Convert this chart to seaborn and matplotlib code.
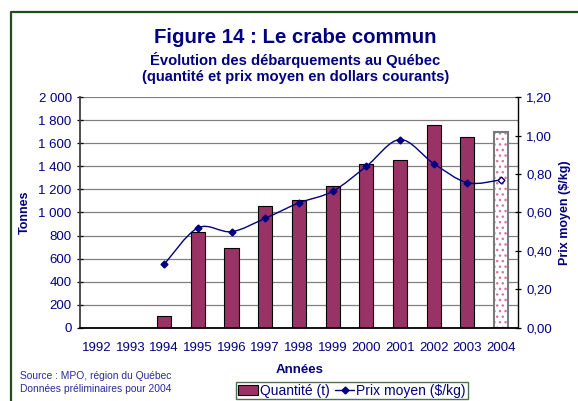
import matplotlib.pyplot as plt
import matplotlib.lines as mlines
import matplotlib.patches as mpatches
from matplotlib.path import Path
import numpy as np
import pandas as pd
import seaborn as sns

annees = ['1992', '1993', '1994', '1995', '1996', '1997', '1998',
          '1999', '2000', '2001', '2002', '2003', '2004']
quantite = [np.nan, np.nan, 105, 830, 690, 1058, 1110,
            1226, 1425, 1452, 1763, 1658, 1696]
prix = [np.nan, np.nan, 0.33, 0.52, 0.50, 0.57, 0.65,
        0.71, 0.84, 0.98, 0.855, 0.755, 0.77]

marine = '#000080'
prune = '#993366'
vert = '#1f4d1f'
rose = '#d87898'

sns.set_style('white')
plt.rcParams['font.family'] = ['Liberation Sans', 'DejaVu Sans']
plt.rcParams['hatch.linewidth'] = 1.0

df = pd.DataFrame({'Année': annees, 'Quantité': quantite})

fig = plt.figure(figsize=(5.78, 4.01), dpi=100)
ax = fig.add_axes([0.1384, 0.1828, 0.896 - 0.1384, 0.7574 - 0.1828])

sns.barplot(data=df, x='Année', y='Quantité', order=annees, ax=ax,
            color=prune, saturation=1, width=0.42, edgecolor='black',
            linewidth=0.8)

# barre 2004 : données préliminaires (hachures roses, contour gris)
derniere = [p for p in ax.patches if p.get_height() > 0][-1]
derniere.set_facecolor('white')
derniere.set_edgecolor(rose)
derniere.set_linewidth(0)
derniere.set_hatch('...')
ax.add_patch(mpatches.Rectangle(derniere.get_xy(), derniere.get_width(),
                                derniere.get_height(), fill=False,
                                edgecolor='#7a7a7a', linewidth=1.5,
                                zorder=derniere.get_zorder() + 0.1))

ax.set_xlim(-0.5, 12.5)
ax.set_ylim(0, 2000)
ax.set_yticks(range(0, 2001, 200))
ax.set_yticklabels([f'{v:,}'.replace(',', ' ') for v in range(0, 2001, 200)])
ax.yaxis.grid(True, color='#808080', linewidth=0.9)
ax.set_axisbelow(True)
ax.set_xticks(np.arange(-0.5, 13, 1), minor=True)
ax.tick_params(axis='x', which='major', length=0, pad=10,
               labelsize=9.5, labelcolor=marine)
ax.tick_params(axis='x', which='minor', length=5, direction='inout',
               color='black', width=0.9)
ax.tick_params(axis='y', length=5, direction='inout', color='black',
               labelsize=9.5, labelcolor=marine, width=0.9, left=True)
for s in ['top', 'right']:
    ax.spines[s].set_visible(False)
ax.spines['left'].set_color('#404040')
ax.spines['left'].set_linewidth(1.3)
ax.spines['bottom'].set_color('black')
ax.spines['bottom'].set_linewidth(1.3)
ax.set_xlabel('')
ax.set_ylabel('Tonnes', fontsize=9, fontweight='bold', color=marine)
ax.yaxis.set_label_coords(-0.112, 0.5)

ax2 = ax.twinx()
ax2.set_ylim(0, 1.2)
ax2.set_yticks(np.arange(0, 1.21, 0.2))
ax2.set_yticklabels([f'{v:.2f}'.replace('.', ',') for v in np.arange(0, 1.21, 0.2)])
ax2.tick_params(axis='y', length=5, direction='inout', color='black',
                labelsize=9.5, labelcolor=marine, width=0.9, right=True)
for s in ['top', 'left', 'bottom']:
    ax2.spines[s].set_visible(False)
ax2.spines['right'].set_color('black')
ax2.spines['right'].set_linewidth(1)
ax2.set_ylabel('Prix moyen ($/kg)', fontsize=9, fontweight='bold',
               color=marine, labelpad=5)

# courbe lissée (Bézier de type Catmull-Rom) du prix moyen
xs = np.array([i for i, p in enumerate(prix) if not np.isnan(p)], float)
ys = np.array([p for p in prix if not np.isnan(p)], float)
pts = np.column_stack([xs, ys])
ext = np.vstack([pts[0], pts, pts[-1]])
verts = [tuple(pts[0])]
codes = [Path.MOVETO]
for i in range(len(pts) - 1):
    p0, p1, p2, p3 = ext[i], ext[i + 1], ext[i + 2], ext[i + 3]
    c1 = p1 + (p2 - p0) / 6
    c2 = p2 - (p3 - p1) / 6
    verts += [tuple(c1), tuple(c2), tuple(p2)]
    codes += [Path.CURVE4] * 3
ax2.add_patch(mpatches.PathPatch(Path(verts, codes), facecolor='none',
                                 edgecolor=marine, linewidth=1))
ax2.plot(xs[:-1], ys[:-1], linestyle='none', marker='D', markersize=3.5,
         color=marine)
ax2.plot(xs[-1:], ys[-1:], linestyle='none', marker='D', markersize=3.5,
         color=marine, markerfacecolor='white')

fig.text(0.511, 0.906, 'Figure 14 : Le crabe commun', ha='center',
         va='center', fontsize=14.7, fontweight='bold', color=marine)
fig.text(0.511, 0.850, 'Évolution des débarquements au Québec',
         ha='center', va='center', fontsize=10.6, fontweight='bold',
         color=marine)
fig.text(0.511, 0.808, '(quantité et prix moyen en dollars courants)',
         ha='center', va='center', fontsize=10.6, fontweight='bold',
         color=marine)
fig.text(0.519, 0.077, 'Années', ha='center', va='center', fontsize=9.5,
         fontweight='bold', color=marine)
fig.text(0.035, 0.062, 'Source : MPO, région du Québec', fontsize=7.4,
         color='#2a2aa0', va='center')
fig.text(0.035, 0.030, 'Données préliminaires pour 2004', fontsize=7.4,
         color='#2a2aa0', va='center')

# cadre vert
fig.add_artist(mlines.Line2D([11 / 578, 11 / 578, 1.0],
                             [0.0, 1 - 12 / 401, 1 - 12 / 401],
                             transform=fig.transFigure, color=vert,
                             linewidth=1.6))

handles = [mpatches.Patch(facecolor=prune, edgecolor='black',
                          linewidth=0.8, label='Quantité (t)'),
           mlines.Line2D([], [], color=marine, marker='D', markersize=3.5,
                         linewidth=1, label='Prix moyen ($/kg)')]
leg = fig.legend(handles=handles, loc='upper center',
                 bbox_to_anchor=(0.609, 0.047), ncol=2, fontsize=10,
                 frameon=True, fancybox=False, borderpad=0.12,
                 handlelength=1.4, handletextpad=0.15, columnspacing=0.4,
                 borderaxespad=0)
leg.get_frame().set_edgecolor(vert)
leg.get_frame().set_linewidth(1)
for t in leg.get_texts():
    t.set_color(marine)

fig.savefig('out.png', dpi=100)
